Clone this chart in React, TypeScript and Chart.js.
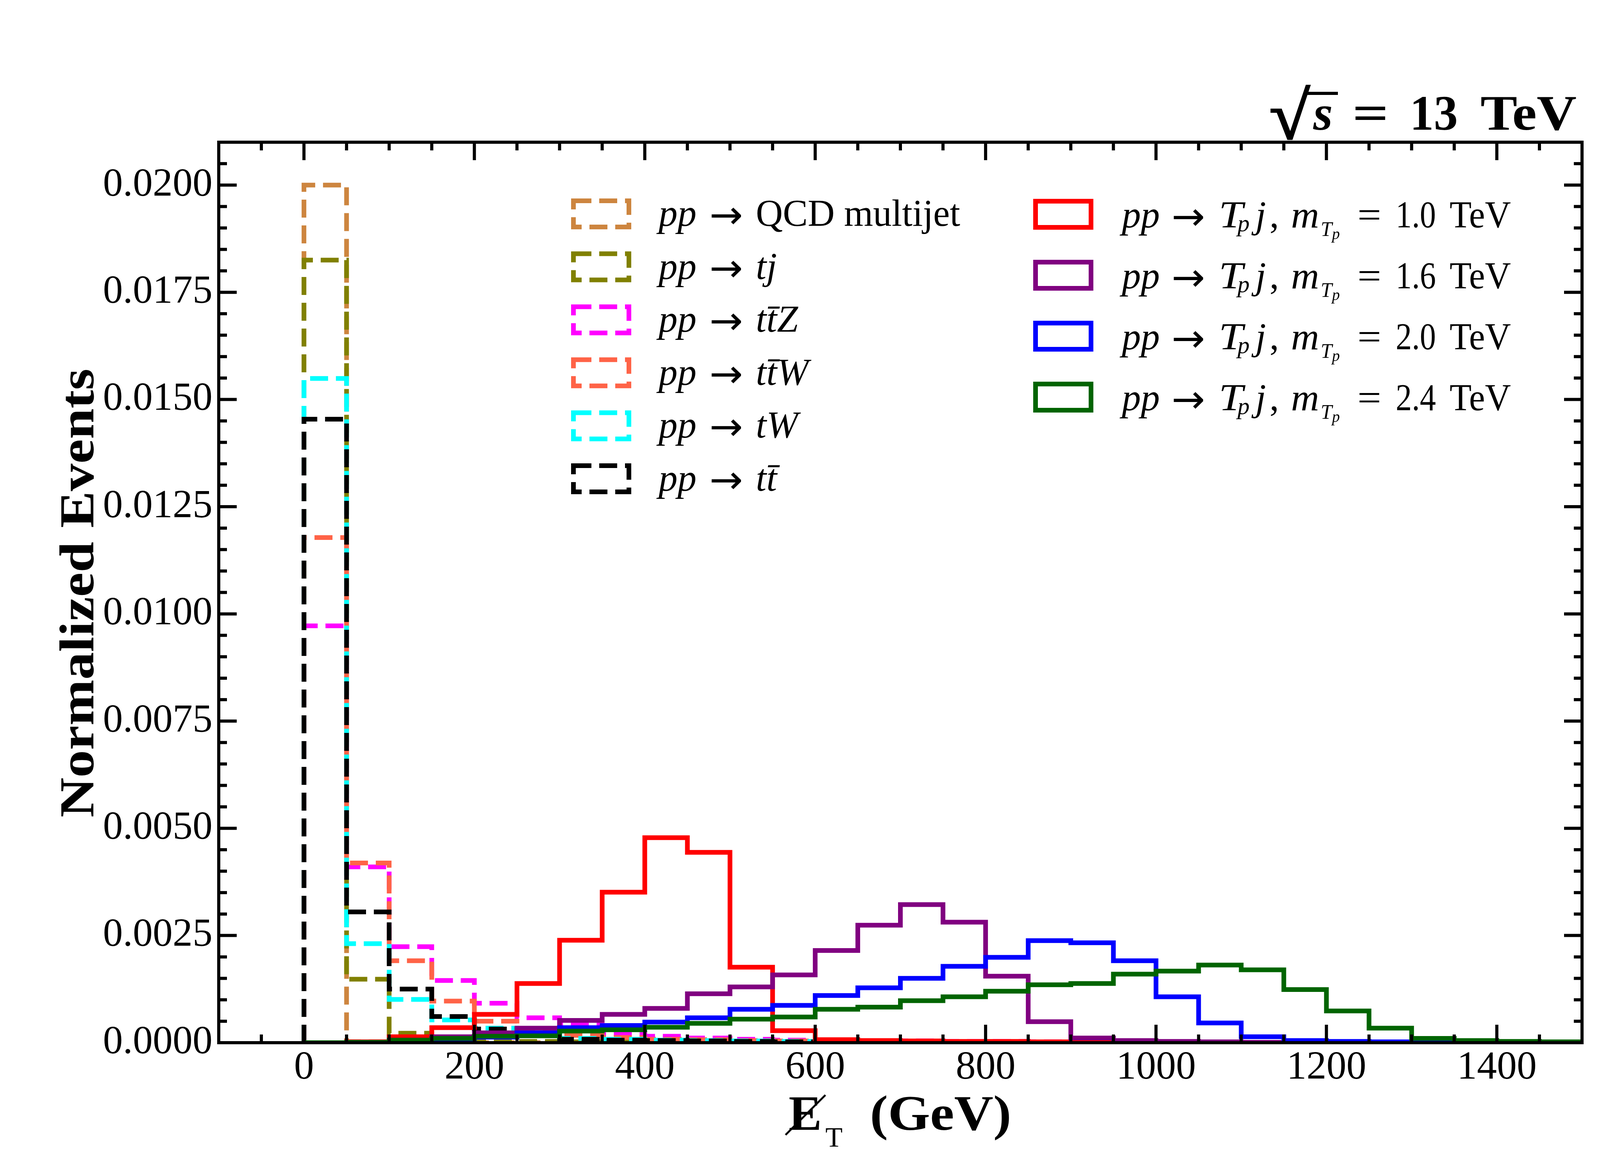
import React, { useEffect, useRef } from "react";
import { Chart, registerables } from "chart.js";

Chart.register(...registerables);

// 50 GeV bins from 0 to 1500
const binEdges = [
  0, 50, 100, 150, 200, 250, 300, 350, 400, 450, 500, 550, 600, 650, 700, 750,
  800, 850, 900, 950, 1000, 1050, 1100, 1150, 1200, 1250, 1300, 1350, 1400, 1450, 1500,
];

// background samples (normalized events per bin)
const qcdMultijet = [
  0.02, 0.00002, 0, 0, 0, 0, 0, 0, 0, 0,
  0, 0, 0, 0, 0, 0, 0, 0, 0, 0,
  0, 0, 0, 0, 0, 0, 0, 0, 0, 0,
];
const tj = [
  0.01825, 0.00148, 0.00022, 0.00005, 0.00004, 0.00003, 0.00002, 0.00002, 0.00001, 0.00001,
  0, 0, 0, 0, 0, 0, 0, 0, 0, 0,
  0, 0, 0, 0, 0, 0, 0, 0, 0, 0,
];
const ttZ = [
  0.00972, 0.0041, 0.00224, 0.00145, 0.00092, 0.00058, 0.00041, 0.00021, 0.00015, 0.00011,
  0.00008, 0.00006, 0.00005, 0.00004, 0.00004, 0.00003, 0.00003, 0.00002, 0.00002, 0.00002,
  0.00001, 0.00001, 0.00001, 0, 0, 0, 0, 0, 0, 0,
];
const ttW = [
  0.01178, 0.00419, 0.00191, 0.00097, 0.0005, 0.00027, 0.00017, 0.00012, 0.00008, 0.00007,
  0.00005, 0.00004, 0.00003, 0.00003, 0.00002, 0.00002, 0.00001, 0.00001, 0, 0,
  0, 0, 0, 0, 0, 0, 0, 0, 0, 0,
];
const tW = [
  0.01549, 0.00231, 0.00101, 0.00053, 0.00034, 0.0002, 0.0001, 0.00008, 0.00006, 0.00005,
  0.00004, 0.00003, 0.00002, 0.00002, 0.00001, 0, 0, 0, 0, 0,
  0, 0, 0, 0, 0, 0, 0, 0, 0, 0,
];
const ttbar = [
  0.01454, 0.00305, 0.00125, 0.00061, 0.00032, 0.00017, 0.00008, 0.00006, 0.00005, 0.00004,
  0.00003, 0.00002, 0.00002, 0.00001, 0, 0, 0, 0, 0, 0,
  0, 0, 0, 0, 0, 0, 0, 0, 0, 0,
];

// signal samples
const tp1000 = [
  0, 0.00002, 0.00014, 0.00035, 0.00066, 0.00138, 0.00239, 0.00351, 0.00478, 0.00444,
  0.00176, 0.00028, 0.00007, 0.00005, 0.00004, 0.00003, 0.00003, 0.00002, 0.00002, 0.00002,
  0.00001, 0.00001, 0, 0, 0, 0, 0, 0, 0, 0,
];
const tp1600 = [
  0, 0.00001, 0.00006, 0.00014, 0.00023, 0.00034, 0.00052, 0.00066, 0.0008, 0.00114,
  0.0013, 0.00158, 0.00215, 0.00274, 0.00322, 0.00281, 0.00155, 0.00049, 0.00011, 0.00005,
  0.00003, 0.00002, 0.00001, 0.00001, 0, 0, 0, 0, 0, 0,
];
const tp2000 = [
  0, 0.00001, 0.00004, 0.00008, 0.00013, 0.00023, 0.00035, 0.0004, 0.00048, 0.00058,
  0.00078, 0.00087, 0.0011, 0.00128, 0.0015, 0.00178, 0.00199, 0.00238, 0.00233, 0.00191,
  0.00107, 0.00046, 0.00014, 0.00005, 0.00003, 0.00002, 0.00002, 0.00001, 0, 0,
];
const tp2400 = [
  0, 0.00001, 0.00006, 0.0001, 0.00015, 0.00016, 0.00027, 0.0003, 0.00036, 0.00045,
  0.00055, 0.0006, 0.00078, 0.00083, 0.00098, 0.00107, 0.0012, 0.00135, 0.00138, 0.0016,
  0.00167, 0.00181, 0.0017, 0.00124, 0.00074, 0.00034, 0.0001, 0.00005, 0.00003, 0.00002,
];

const xTickValues = [0, 200, 400, 600, 800, 1000, 1200, 1400];
const yTickValues = [0, 0.0025, 0.005, 0.0075, 0.01, 0.0125, 0.015, 0.0175, 0.02];

interface Sample {
  label: string;
  color: string;
  values: number[];
  dashed: boolean;
}

const samples: Sample[] = [
  { label: "pp → QCD multijet", color: "#CD853F", values: qcdMultijet, dashed: true },
  { label: "pp → tj", color: "#808000", values: tj, dashed: true },
  { label: "pp → tt̄Z", color: "#FF00FF", values: ttZ, dashed: true },
  { label: "pp → tt̄W", color: "#FF6347", values: ttW, dashed: true },
  { label: "pp → tW", color: "#00FFFF", values: tW, dashed: true },
  { label: "pp → tt̄", color: "#000000", values: ttbar, dashed: true },
  { label: "pp → Tpj, mTp = 1.0 TeV", color: "#FF0000", values: tp1000, dashed: false },
  { label: "pp → Tpj, mTp = 1.6 TeV", color: "#800080", values: tp1600, dashed: false },
  { label: "pp → Tpj, mTp = 2.0 TeV", color: "#0000FF", values: tp2000, dashed: false },
  { label: "pp → Tpj, mTp = 2.4 TeV", color: "#006400", values: tp2400, dashed: false },
];

const FONT = "Liberation Serif";
const ARROW_FONT = "DejaVu Sans";

function stepPoints(values: number[]) {
  const pts = [{ x: binEdges[0], y: 0 }];
  values.forEach((v, i) => pts.push({ x: binEdges[i], y: v }));
  pts.push({ x: binEdges[binEdges.length - 1], y: 0 });
  return pts;
}

// frame on all four sides with inward major/minor ticks
const frameTicks = {
  id: "frameTicks",
  afterDatasetsDraw(chart: any) {
    const { ctx, chartArea: a, scales } = chart;
    const xs = scales.x;
    const ys = scales.y;
    ctx.save();
    ctx.strokeStyle = "#000";
    ctx.lineWidth = 8;
    ctx.lineCap = "butt";
    const seg = (x1: number, y1: number, x2: number, y2: number) => {
      ctx.beginPath();
      ctx.moveTo(x1, y1);
      ctx.lineTo(x2, y2);
      ctx.stroke();
    };
    for (let v = -50; v < 1500; v += 50) {
      const px = xs.getPixelForValue(v);
      const len = xTickValues.includes(v) ? 46 : 21;
      seg(px, a.bottom, px, a.bottom - len);
      seg(px, a.top, px, a.top + len);
    }
    for (let i = 1; i <= 41; i++) {
      const py = ys.getPixelForValue(i * 0.0005);
      const len = i % 5 === 0 ? 46 : 21;
      seg(a.left, py, a.left + len, py);
      seg(a.right, py, a.right - len, py);
    }
    ctx.strokeRect(a.left, a.top, a.right - a.left, a.bottom - a.top);
    ctx.restore();
  },
};

const HistChart: React.FC = () => {
  const canvasRef = useRef<HTMLCanvasElement>(null);

  useEffect(() => {
    if (!canvasRef.current) return;
    const n = samples.length;
    const chart = new Chart(canvasRef.current, {
      type: "line",
      data: {
        datasets: samples.map((s, i) => ({
          label: s.label,
          data: stepPoints(s.values),
          borderColor: s.color,
          backgroundColor: s.color,
          borderWidth: 12,
          borderDash: s.dashed ? [46, 20] : [],
          borderJoinStyle: "miter",
          borderCapStyle: "butt",
          stepped: "before",
          fill: false,
          pointRadius: 0,
          order: n - i,
        })),
      },
      options: {
        animation: false,
        responsive: false,
        devicePixelRatio: 1,
        layout: { padding: { left: 0, right: 450, top: 364, bottom: 0 } },
        plugins: { legend: { display: false }, tooltip: { enabled: false } },
        scales: {
          x: {
            type: "linear",
            min: -100,
            max: 1500,
            grid: { display: false, drawTicks: false },
            border: { display: false },
            ticks: {
              color: "#000",
              font: { family: FONT, size: 102 },
              padding: 4,
              maxRotation: 0,
              autoSkip: false,
              callback: (v: any) => String(v),
            },
            afterBuildTicks: (s: any) => {
              s.ticks = xTickValues.map((v) => ({ value: v }));
            },
            afterFit: (s: any) => {
              s.height = 331;
            },
          },
          y: {
            type: "linear",
            min: 0,
            max: 0.021,
            grid: { display: false, drawTicks: false },
            border: { display: false },
            ticks: {
              color: "#000",
              font: { family: FONT, size: 102 },
              padding: 16,
              autoSkip: false,
              callback: (v: any) => Number(v).toFixed(4),
            },
            afterBuildTicks: (s: any) => {
              s.ticks = yTickValues.map((v) => ({ value: v }));
            },
            afterFit: (s: any) => {
              s.width = 560;
            },
          },
        },
      } as any,
      plugins: [frameTicks],
    });
    return () => chart.destroy();
  }, []);

  return (
    <canvas
      ref={canvasRef}
      width={4500}
      height={3000}
      style={{ position: "absolute", left: 0, top: 0, width: 4500, height: 3000 }}
    />
  );
};

const it = { fontStyle: "italic" } as const;

const bgRows = [
  { color: "#CD853F", math: null as any, rest: "QCD multijet" },
  { color: "#808000", math: "tj" },
  { color: "#FF00FF", math: "tt\u0304Z" },
  { color: "#FF6347", math: "tt\u0304W" },
  { color: "#00FFFF", math: "tW" },
  { color: "#000000", math: "tt\u0304" },
];
const sigRows = [
  { color: "#FF0000", mass: "1.0" },
  { color: "#800080", mass: "1.6" },
  { color: "#0000FF", mass: "2.0" },
  { color: "#006400", mass: "2.4" },
];

const Arrow: React.FC<{ x: number; y: number }> = ({ x, y }) => (
  <tspan x={x} y={y} fontFamily={ARROW_FONT} fontSize={100} textLength={86} lengthAdjust="spacingAndGlyphs">
    →
  </tspan>
);

const Overlay: React.FC = () => (
  <svg
    width={4500}
    height={3000}
    viewBox="0 0 4500 3000"
    style={{ position: "absolute", left: 0, top: 0, pointerEvents: "none" }}
    fontFamily={FONT}
  >
    {/* left legend: backgrounds */}
    {bgRows.map((r, k) => {
      const top = 508 + k * 135.6;
      const base = 578 + k * 135.6;
      return (
        <g key={"bg" + k}>
          <rect x={1468} y={top + 6} width={142} height={67} fill="none"
            stroke={r.color} strokeWidth={12} strokeDasharray="46 20" />
          <text fontSize={97}>
            <tspan x={1686} y={base} style={it}>pp</tspan>
            <Arrow x={1816} y={base + 6} />
            {r.rest ? (
              <tspan x={1935} y={base} textLength={523} lengthAdjust="spacingAndGlyphs">{r.rest}</tspan>
            ) : (
              <tspan x={1935} y={base} style={it}>{r.math}</tspan>
            )}
          </text>
        </g>
      );
    })}

    {/* right legend: signals */}
    {sigRows.map((r, k) => {
      const top = 509 + k * 156;
      const b = 582 + k * 156;
      return (
        <g key={"sg" + k}>
          <rect x={2651} y={top + 6} width={142} height={67} fill="none"
            stroke={r.color} strokeWidth={12} />
          <text fontSize={97}>
            <tspan x={2872} y={b} style={it}>pp</tspan>
            <Arrow x={2999} y={b + 6} />
            <tspan x={3120} y={b} style={it} textLength={62} lengthAdjust="spacingAndGlyphs">T</tspan>
            <tspan x={3168} y={b + 10} fontSize={62} style={it}>p</tspan>
            <tspan x={3214} y={b} style={it}>j</tspan>
            <tspan x={3250} y={b}>,</tspan>
            <tspan x={3305} y={b} style={it} textLength={72} lengthAdjust="spacingAndGlyphs">m</tspan>
            <tspan x={3381} y={b + 22} fontSize={52} style={it}>T</tspan>
            <tspan x={3410} y={b + 30} fontSize={40} style={it}>p</tspan>
            <tspan x={3475} y={b} textLength={61} lengthAdjust="spacingAndGlyphs">=</tspan>
            <tspan x={3573} y={b} textLength={103} lengthAdjust="spacingAndGlyphs">{r.mass}</tspan>
            <tspan x={3711} y={b} textLength={157} lengthAdjust="spacingAndGlyphs">TeV</tspan>
          </text>
        </g>
      );
    })}

    {/* energy label */}
    <text fontWeight="bold" fontSize={128}>
      <tspan x={3250} y={355} fontSize={172} textLength={103} lengthAdjust="spacingAndGlyphs"
        stroke="#000" strokeWidth={4}>√</tspan>
      <tspan x={3362} y={332} style={it}>s</tspan>
      <tspan x={3462} y={332} textLength={93} lengthAdjust="spacingAndGlyphs">=</tspan>
      <tspan x={3609} y={332} textLength={123} lengthAdjust="spacingAndGlyphs">13</tspan>
      <tspan x={3790} y={332} textLength={246} lengthAdjust="spacingAndGlyphs">TeV</tspan>
    </text>
    <line x1={3346} y1={239} x2={3425} y2={239} stroke="#000" strokeWidth={8} />

    {/* x axis title */}
    <text fontSize={127} fontWeight="bold">
      <tspan x={2019} y={2892}>E</tspan>
      <tspan x={2113} y={2935} fontSize={72} fontWeight="normal">T</tspan>
      <tspan x={2227} y={2892} textLength={362} lengthAdjust="spacingAndGlyphs">(GeV)</tspan>
    </text>
    <line x1={2011} y1={2905} x2={2113} y2={2803} stroke="#000" strokeWidth={5} />

    {/* y axis title */}
    <text x={239} y={1518} transform="rotate(-90 239 1518)" textAnchor="middle"
      fontSize={125} fontWeight="bold" textLength={1149} lengthAdjust="spacingAndGlyphs">
      Normalized Events
    </text>
  </svg>
);

export default function App() {
  return (
    <div style={{ position: "absolute", left: 0, top: 0, width: 4500, height: 3000, background: "#fff" }}>
      <HistChart />
      <Overlay />
    </div>
  );
}
